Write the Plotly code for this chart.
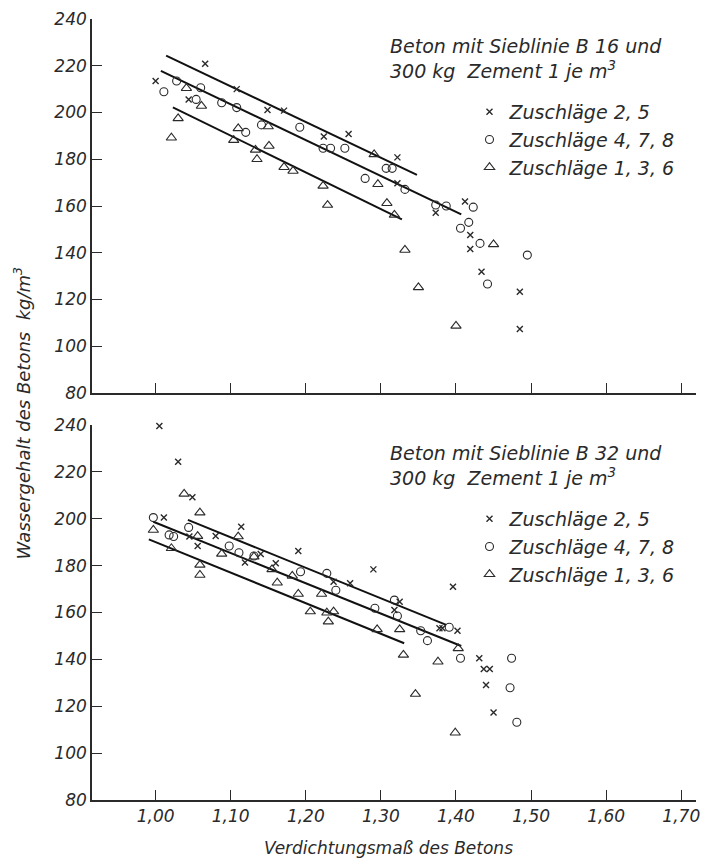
import plotly.graph_objects as go
from plotly.subplots import make_subplots

# ---------------- data ----------------
# Top panel: Sieblinie B 16
top_x_25 = [1.000, 1.044, 1.066, 1.108, 1.149, 1.171, 1.224, 1.257, 1.322, 1.322, 1.373, 1.412, 1.419, 1.419, 1.434, 1.485, 1.485]
top_y_25 = [213.5, 205.6, 220.9, 210.0, 201.1, 200.8, 189.7, 190.8, 180.8, 169.7, 157.1, 161.9, 147.6, 141.6, 131.9, 123.3, 107.4]

top_x_478 = [1.011, 1.028, 1.054, 1.060, 1.088, 1.108, 1.120, 1.141, 1.192, 1.223, 1.233, 1.252, 1.279, 1.307, 1.315, 1.332, 1.373, 1.387, 1.406, 1.417, 1.423, 1.432, 1.442, 1.495]
top_y_478 = [208.9, 213.5, 205.6, 210.6, 204.2, 202.1, 191.5, 194.7, 193.7, 184.7, 184.7, 184.7, 171.8, 176.1, 176.1, 167.1, 160.4, 160.0, 150.5, 153.0, 159.5, 144.0, 126.6, 139.0]

top_x_136 = [1.021, 1.030, 1.041, 1.061, 1.104, 1.110, 1.133, 1.135, 1.150, 1.151, 1.171, 1.183, 1.223, 1.229, 1.291, 1.296, 1.308, 1.318, 1.332, 1.350, 1.400, 1.450]
top_y_136 = [189.2, 197.5, 210.4, 202.8, 188.2, 193.2, 184.0, 180.0, 194.0, 185.7, 176.6, 175.0, 168.6, 160.4, 182.1, 169.3, 161.2, 156.2, 141.2, 125.2, 108.7, 143.6]

# regression lines (start, end)
top_line_x_25 = [1.014, 1.348]
top_line_y_25 = [224.3, 173.3]
top_line_x_478 = [1.007, 1.407]
top_line_y_478 = [217.8, 156.4]
top_line_x_136 = [1.023, 1.328]
top_line_y_136 = [202.2, 154.3]

# Bottom panel: Sieblinie B 32
bot_x_25 = [1.005, 1.030, 1.049, 1.011, 1.045, 1.056, 1.080, 1.114, 1.119, 1.140, 1.160, 1.190, 1.237, 1.259, 1.290, 1.325, 1.318, 1.378, 1.382, 1.396, 1.402, 1.431, 1.437, 1.445, 1.440, 1.450]
bot_y_25 = [239.6, 224.3, 209.2, 200.5, 192.4, 188.4, 192.6, 196.6, 181.3, 185.0, 181.0, 186.2, 173.1, 172.5, 178.4, 164.6, 161.1, 153.3, 153.3, 171.0, 152.2, 140.5, 135.9, 135.9, 129.1, 117.3]

bot_x_478 = [0.997, 1.018, 1.024, 1.044, 1.098, 1.111, 1.131, 1.193, 1.228, 1.240, 1.292, 1.318, 1.322, 1.353, 1.362, 1.391, 1.406, 1.472, 1.474, 1.481]
bot_y_478 = [200.5, 193.1, 192.4, 196.3, 188.4, 185.5, 184.1, 177.4, 176.7, 169.5, 161.8, 165.3, 158.5, 152.2, 148.0, 153.7, 140.5, 127.9, 140.5, 113.2]

bot_x_136 = [0.997, 1.021, 1.038, 1.056, 1.059, 1.059, 1.059, 1.088, 1.110, 1.131, 1.155, 1.162, 1.182, 1.190, 1.206, 1.221, 1.228, 1.230, 1.237, 1.295, 1.325, 1.330, 1.346, 1.376, 1.399, 1.403]
bot_y_136 = [195.2, 187.4, 210.6, 192.6, 202.6, 180.3, 176.0, 185.0, 192.4, 183.8, 178.4, 172.7, 175.6, 167.9, 160.4, 167.9, 159.9, 156.1, 160.4, 152.8, 152.8, 141.9, 125.2, 139.0, 108.7, 144.7]

bot_line_x_25 = [1.043, 1.387]
bot_line_y_25 = [199.5, 154.7]
bot_line_x_478 = [0.997, 1.407]
bot_line_y_478 = [198.7, 145.7]
bot_line_x_136 = [0.991, 1.331]
bot_line_y_136 = [191.2, 146.9]

series_names = ["Zuschläge 2, 5", "Zuschläge 4, 7, 8", "Zuschläge 1, 3, 6"]
x_tickvals = [1.0, 1.1, 1.2, 1.3, 1.4, 1.5, 1.6, 1.7]
y_tickvals = [80, 100, 120, 140, 160, 180, 200, 220, 240]

top_title = "Beton mit Sieblinie B 16 und<br>300 kg  Zement 1 je m<sup>3</sup>"
bot_title = "Beton mit Sieblinie B 32 und<br>300 kg  Zement 1 je m<sup>3</sup>"
x_title = "Verdichtungsmaß des Betons"
y_title = "Wassergehalt des Betons  kg/m<sup>3</sup>"

# ---------------- styling ----------------
INK = "#2a2a2a"
FONT = "DejaVu Sans"
W, H = 701, 859
ML, MR, MT, MB = 92, 1, 19, 59
PH = H - MT - MB
PW = W - ML - MR


def py(pix):
    return (H - MB - pix) / PH


def px(pix):
    return (pix - ML) / PW


marker_styles = [
    dict(symbol="x-thin", size=6, line=dict(width=1.4, color=INK), color=INK),
    dict(symbol="circle-open", size=8, line=dict(width=1.1, color=INK), color=INK),
    dict(symbol="triangle-up-open", size=9, line=dict(width=1.1, color=INK), color=INK),
]

fig = make_subplots(rows=2, cols=1, vertical_spacing=0.0)

panels = [
    (1, "legend", [(top_x_25, top_y_25), (top_x_478, top_y_478), (top_x_136, top_y_136)],
     [(top_line_x_25, top_line_y_25), (top_line_x_478, top_line_y_478), (top_line_x_136, top_line_y_136)]),
    (2, "legend2", [(bot_x_25, bot_y_25), (bot_x_478, bot_y_478), (bot_x_136, bot_y_136)],
     [(bot_line_x_25, bot_line_y_25), (bot_line_x_478, bot_line_y_478), (bot_line_x_136, bot_line_y_136)]),
]

for row, leg, pts, lines in panels:
    for (lx, ly) in lines:
        fig.add_trace(go.Scatter(x=lx, y=ly, mode="lines", line=dict(color="#111", width=2),
                                 showlegend=False, hoverinfo="skip"), row=row, col=1)
    for i, (xx, yy) in enumerate(pts):
        fig.add_trace(go.Scatter(x=xx, y=yy, mode="markers", name=series_names[i],
                                 marker=marker_styles[i], legend=leg,
                                 legendgroup=f"{leg}_{i}", cliponaxis=False), row=row, col=1)

axis_common = dict(range=[0.9153, 1.7196], tickvals=x_tickvals, ticks="inside", ticklen=10,
                   tickwidth=1.2, tickcolor=INK, showline=True, linecolor=INK, linewidth=1.6,
                   showgrid=False, zeroline=False, tickformat=".2f", ticklabeloverflow="allow")
yaxis_common = dict(range=[80, 240], tickvals=y_tickvals, ticks="inside", ticklen=10,
                    tickwidth=1.2, tickcolor=INK, showline=True, linecolor=INK, linewidth=1.6,
                    showgrid=False, zeroline=False)

fig.update_xaxes(**axis_common)
fig.update_yaxes(**yaxis_common)
fig.update_layout(
    xaxis=dict(domain=[0, 1], showticklabels=False, anchor="y"),
    xaxis2=dict(domain=[0, 1], showticklabels=True, anchor="y2"),
    yaxis=dict(domain=[py(393), 1.0]),
    yaxis2=dict(domain=[0.0, py(425)]),
)

leg_common = dict(font=dict(family=FONT, size=19, color=INK, style="italic"),
                  bgcolor="rgba(0,0,0,0)", borderwidth=0, xanchor="left", yanchor="top",
                  tracegroupgap=0, itemwidth=30)

fig.update_layout(
    width=W, height=H,
    margin=dict(l=ML, r=MR, t=MT, b=MB),
    paper_bgcolor="white", plot_bgcolor="white",
    separators=", ",
    font=dict(family=FONT, size=17, color=INK, style="italic"),
    legend=dict(x=px(472), y=py(93), **leg_common),
    legend2=dict(x=px(472), y=py(500), **leg_common),
    annotations=[
        dict(text=top_title, x=px(390), y=py(33), xref="paper", yref="paper", xanchor="left",
             yanchor="top", align="left", showarrow=False, font=dict(size=19)),
        dict(text=bot_title, x=px(390), y=py(440), xref="paper", yref="paper", xanchor="left",
             yanchor="top", align="left", showarrow=False, font=dict(size=19)),
        dict(text=x_title, x=px(390), y=py(848), xref="paper", yref="paper", xanchor="center",
             yanchor="middle", showarrow=False, font=dict(size=17)),
        dict(text=y_title, x=px(22), y=py(413), xref="paper", yref="paper", xanchor="center",
             yanchor="middle", textangle=-90, showarrow=False, font=dict(size=18)),
    ],
)

fig.write_html("out.html")
